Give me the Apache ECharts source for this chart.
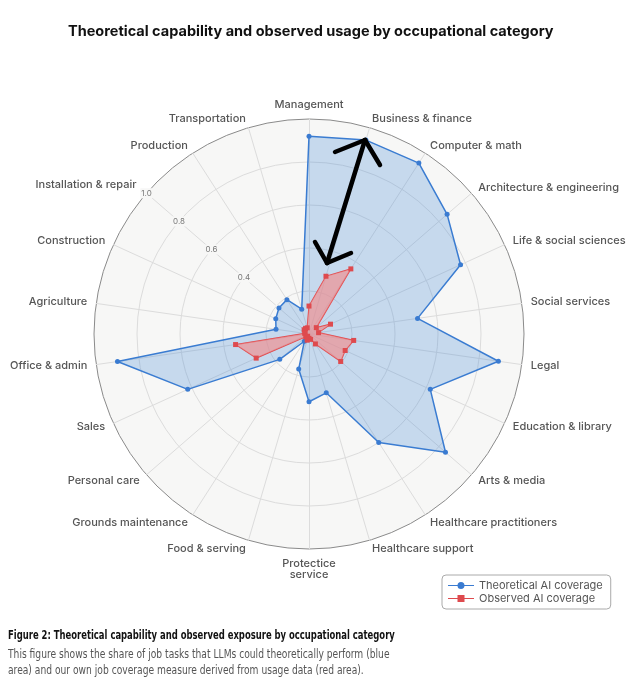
<!DOCTYPE html>
<html>
<head>
<meta charset="utf-8">
<script src="https://cdn.jsdelivr.net/npm/echarts@6/dist/echarts.min.js"></script>
<style>
  html, body { margin: 0; padding: 0; background: #fff; }
  #chart { width: 643px; height: 680px; }
</style>
</head>
<body>
<div id="chart"></div>
<script>
/* Theoretical vs observed AI coverage radar */

// categories clockwise from the top
const categories = [
    'Management', 'Business & finance', 'Computer & math', 'Architecture & engineering',
    'Life & social sciences', 'Social services', 'Legal', 'Education & library',
    'Arts & media', 'Healthcare practitioners', 'Healthcare support', 'Protectice\nservice',
    'Food & serving', 'Grounds maintenance', 'Personal care', 'Sales', 'Office & admin',
    'Agriculture', 'Construction', 'Installation & repair', 'Production', 'Transportation'
];
const theoretical = [0.92, 0.94, 0.945, 0.85, 0.775, 0.51, 0.89, 0.62, 0.84, 0.60, 0.285,
    0.315, 0.17, 0.04, 0.18, 0.62, 0.90, 0.155, 0.17, 0.185, 0.19, 0.12];
const observed = [0.13, 0.28, 0.36, 0.045, 0.11, 0.045, 0.21, 0.185, 0.195, 0.055, 0.026,
    0.02, 0.03, 0.012, 0.02, 0.27, 0.345, 0.02, 0.02, 0.03, 0.03, 0.03];
const seriesNames = ['Theoretical AI coverage', 'Observed AI coverage'];
const labelAxis = 'Installation & repair';

const FONT = 'Inter, "Noto Sans", sans-serif';
const COND = '"DejaVu Sans Condensed", "DejaVu Sans", sans-serif';
const BG = '#f7f7f6';

// echarts lays radar indicators out counter-clockwise, so flip the order
const order = [0].concat(categories.map((c, i) => i).slice(1).reverse());
const pick = arr => order.map(i => arr[i]);

const indicator = order.map(i => {
    const ind = { name: categories[i], max: 1, min: 0 };
    if (categories[i] === labelAxis) {
        ind.axisLabel = {
            show: true,
            fontSize: 8,
            color: '#777',
            fontFamily: FONT,
            margin: 0,
            align: 'center',
            verticalAlign: 'middle',
            backgroundColor: BG,
            padding: [1, 1],
            formatter: v => (v >= 0.3 ? v.toFixed(1) : ''),
        };
    }
    return ind;
});

const arrowStyle = { stroke: '#000', lineWidth: 4.5, lineCap: 'round' };
const seg = (x1, y1, x2, y2) => ({ type: 'line', z: 100, shape: { x1, y1, x2, y2 }, style: arrowStyle });

const chart = echarts.init(document.getElementById('chart'), null, { renderer: 'canvas' });
chart.setOption({
    animation: false,
    title: {
        text: 'Theoretical capability and observed usage by occupational category',
        left: 68, top: 24, padding: 0,
        textStyle: { fontFamily: FONT, fontSize: 14.5, fontWeight: 'bold', color: '#111' },
    },
    legend: {
        data: [
            { name: seriesNames[0], icon: 'path://M0,3.4H26V4.6H0Z M13,0.5A3.5,3.5 0 1 1 12.99,0.5Z' },
            { name: seriesNames[1], icon: 'path://M0,3.4H26V4.6H0Z M9.5,0.5H16.5V7.5H9.5Z' },
        ],
        orient: 'vertical',
        left: 442, top: 575,
        padding: [5, 8, 5, 6],
        itemGap: 2,
        itemWidth: 26, itemHeight: 7,
        borderColor: '#aaa', borderWidth: 1, borderRadius: 4,
        textStyle: { fontFamily: FONT, fontSize: 11, color: '#555' },
        itemStyle: { borderWidth: 0 },
    },
    radar: {
        center: [309, 334],
        radius: 215,
        startAngle: 90,
        shape: 'circle',
        splitNumber: 5,
        nameGap: 9,
        indicator,
        axisName: { fontFamily: FONT, fontSize: 11, fontWeight: 500, color: '#555' },
        axisLine: { lineStyle: { color: '#dcdcdc', width: 1 } },
        splitLine: { lineStyle: { color: ['#dcdcdc', '#dcdcdc', '#dcdcdc', '#dcdcdc', '#dcdcdc', '#8a8a8a'], width: 1 } },
        splitArea: { areaStyle: { color: [BG] } },
        axisLabel: { show: false },
    },
    series: [
        {
            type: 'radar',
            symbol: 'circle',
            symbolSize: 5,
            itemStyle: { color: '#3a7bd1' },
            lineStyle: { color: '#3a7bd1', width: 1.5 },
            areaStyle: { color: 'rgba(64,136,212,0.38)' },
            data: [{ name: seriesNames[0], value: pick(theoretical) }],
        },
        {
            type: 'radar',
            symbol: 'rect',
            symbolSize: 5,
            itemStyle: { color: '#de4a4e' },
            lineStyle: { color: '#de4a4e', width: 1.2 },
            areaStyle: { color: 'rgba(242,138,138,0.9)' },
            data: [{ name: seriesNames[1], value: pick(observed) }],
        }
    ],
    graphic: [
        // hand-drawn double arrow annotation
        seg(365, 140, 327, 263),
        seg(335, 152, 365, 140),
        seg(365, 140, 380, 165),
        seg(315, 242, 327, 263),
        seg(327, 263, 351, 253),
        // figure caption
        {
            type: 'text', x: 8, y: 630, scaleX: 0.816,
            style: {
                text: 'Figure 2: Theoretical capability and observed exposure by occupational category',
                font: 'bold 11.5px ' + COND, fill: '#111',
            },
        },
        {
            type: 'text', x: 8, y: 647, scaleX: 0.884,
            style: {
                text: 'This figure shows the share of job tasks that LLMs could theoretically perform (blue\narea) and our own job coverage measure derived from usage data (red area).',
                font: '11.5px ' + COND, fill: '#555', lineHeight: 16,
            },
        },
    ],
});
</script>
</body>
</html>
